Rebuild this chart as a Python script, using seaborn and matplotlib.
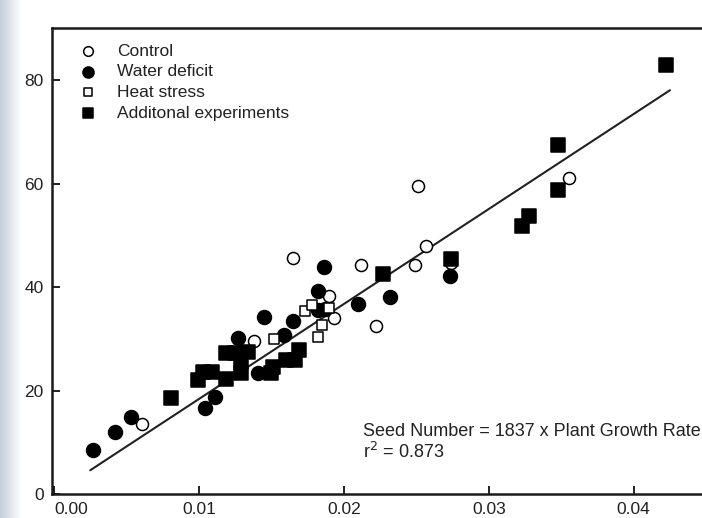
import numpy as np
import pandas as pd
import matplotlib.pyplot as plt
import seaborn as sns

# values
control_x = [0.0061, 0.0138, 0.0165, 0.0190, 0.0193, 0.0212, 0.0222, 0.0249, 0.0251, 0.0257, 0.0274, 0.0355]
control_y = [13.6, 29.5, 45.7, 38.2, 34.0, 44.2, 32.5, 44.2, 59.5, 47.9, 44.7, 61.1]

water_x = [0.0027, 0.0042, 0.0053, 0.0104, 0.0111, 0.0127, 0.0141, 0.0145, 0.0159, 0.0165,
           0.0182, 0.0182, 0.0186, 0.0187, 0.0210, 0.0232, 0.0273]
water_y = [8.5, 12.0, 14.8, 16.6, 18.7, 30.2, 23.3, 34.3, 30.8, 33.4,
           39.2, 35.6, 43.8, 35.8, 36.7, 38.0, 42.2]

heat_x = [0.0152, 0.0173, 0.0178, 0.0185, 0.0182, 0.0190]
heat_y = [30.0, 35.3, 36.6, 32.7, 30.4, 35.9]

extra_x = [0.0081, 0.0099, 0.0103, 0.0109, 0.0119, 0.0119, 0.0125, 0.0129, 0.0129, 0.0134, 0.0150,
           0.0151, 0.0160, 0.0166, 0.0169, 0.0227, 0.0274, 0.0323, 0.0328, 0.0348, 0.0348, 0.0422]
extra_y = [18.5, 22.0, 23.6, 23.6, 22.3, 27.3, 27.2, 23.3, 25.6, 27.5, 23.3,
           24.6, 25.9, 25.9, 27.8, 42.6, 45.5, 51.8, 53.8, 67.4, 58.7, 82.9]

labels = ["Control", "Water deficit", "Heat stress", "Additonal experiments"]
slope = 1837
fit_x = np.array([0.0025, 0.0425])

sns.set_style("ticks")
plt.rcParams["font.family"] = ["Liberation Sans", "DejaVu Sans"]

df = pd.concat([
    pd.DataFrame({"x": control_x, "y": control_y, "group": labels[0]}),
    pd.DataFrame({"x": water_x, "y": water_y, "group": labels[1]}),
    pd.DataFrame({"x": heat_x, "y": heat_y, "group": labels[2]}),
    pd.DataFrame({"x": extra_x, "y": extra_y, "group": labels[3]}),
])

fig = plt.figure(figsize=(7.02, 5.18), dpi=100)

# greyish-blue scan shading on the left edge
bg = fig.add_axes([0, 0, 0.03, 1])
grad = np.linspace(0, 1, 50).reshape(1, -1)
bg.imshow(grad, aspect="auto", cmap=sns.blend_palette(["#c5cedb", "#ffffff"], as_cmap=True),
          extent=[0, 1, 0, 1])
bg.axis("off")

ax = fig.add_axes([52 / 702, 24 / 518, 660 / 702, 466 / 518])

styles = {
    labels[0]: dict(marker="o", facecolor="white", s=75),
    labels[1]: dict(marker="o", facecolor="black", s=100),
    labels[2]: dict(marker="s", facecolor="white", s=62),
    labels[3]: dict(marker="s", facecolor="black", s=88),
}
for g in labels:
    st = styles[g]
    sns.scatterplot(data=df[df["group"] == g], x="x", y="y", ax=ax, marker=st["marker"],
                    s=st["s"], facecolor=st["facecolor"], edgecolor="black", linewidth=1.1,
                    label=g, zorder=3)

sns.lineplot(x=fit_x, y=slope * fit_x, ax=ax, color="#222222", linewidth=1.5, zorder=2)

ax.set_xlim(-0.00014, 0.0454)
ax.set_ylim(0, 90.1)
ax.set_xticks([0.0, 0.01, 0.02, 0.03, 0.04])
ax.set_xticklabels(["0.00", "0.01", "0.02", "0.03", "0.04"])
ax.set_yticks([0, 20, 40, 60, 80])
ax.tick_params(direction="in", length=6, width=1.4, labelsize=12.5, colors="#222222", pad=6)
ax.get_xticklabels()[0].set_horizontalalignment("left")
ax.set_xlabel("")
ax.set_ylabel("")
for sp in ax.spines.values():
    sp.set_linewidth(1.8)
    sp.set_color("#1a1a1a")

ax.text(0.0213, 12.0, "Seed Number = 1837 x Plant Growth Rate", fontsize=13, color="#222222",
        va="center", ha="left")
ax.text(0.0213, 8.2, "r$^2$ = 0.873", fontsize=13, color="#222222", va="center", ha="left")

leg = ax.legend(loc="upper left", bbox_to_anchor=(0.0177, 0.981), frameon=False, fontsize=12.5,
                handletextpad=0.65, labelspacing=0.31, markerscale=0.8, borderaxespad=0)
for t in leg.get_texts():
    t.set_color("#222222")

fig.savefig("out.png", dpi=100)
